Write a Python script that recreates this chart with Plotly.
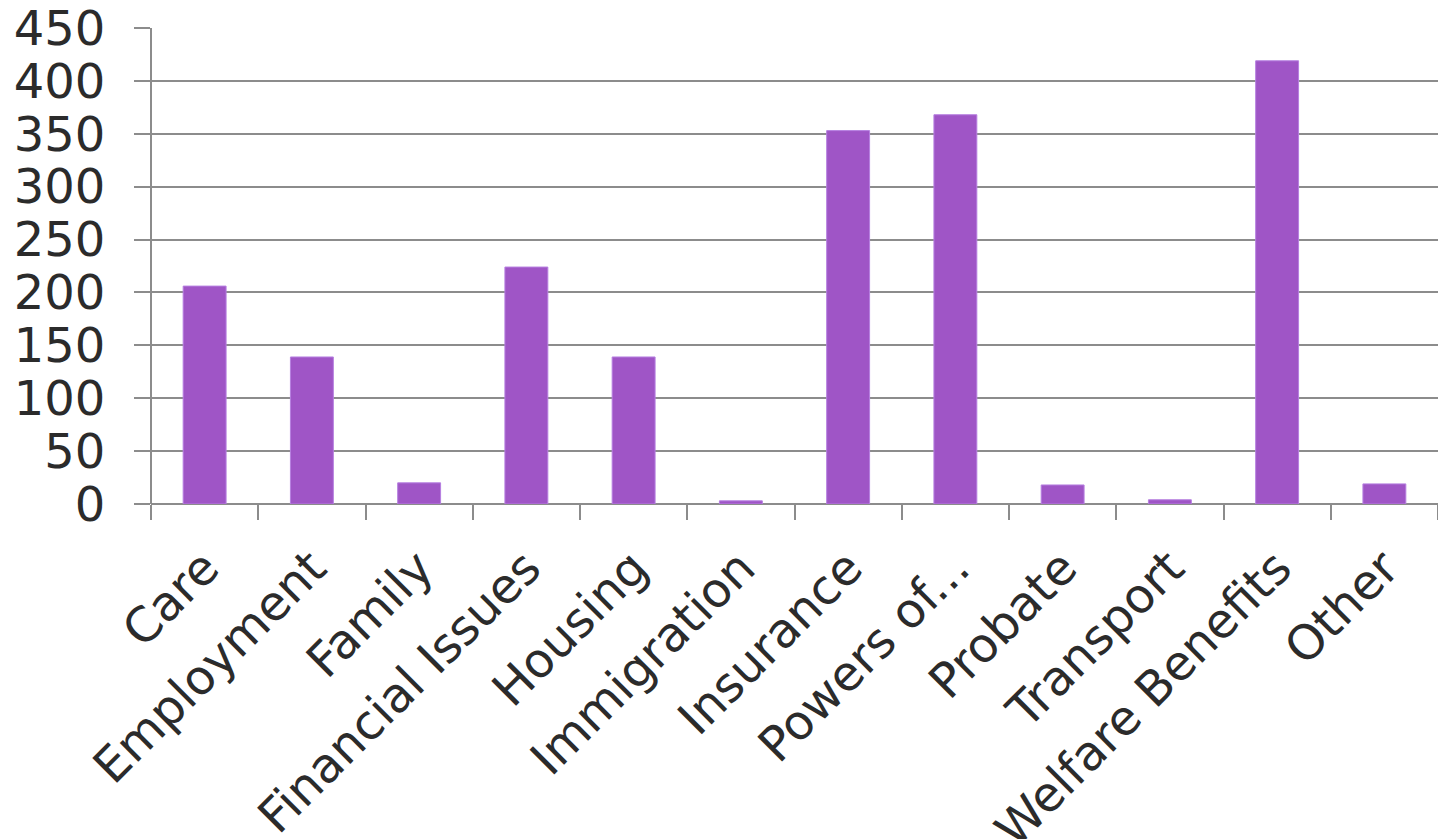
import plotly.graph_objects as go

categories = ["Care", "Employment", "Family", "Financial Issues", "Housing",
              "Immigration", "Insurance", "Powers of...", "Probate", "Transport",
              "Welfare Benefits", "Other"]
counts = [206, 139, 20, 224, 139, 3, 353, 368, 18, 4, 419, 19]
y_ticks = [0, 50, 100, 150, 200, 250, 300, 350, 400, 450]

FONT = "DejaVu Sans"
TEXT = "#2b2b2b"
GRID = "#8c8c8c"

fig = go.Figure(
    go.Bar(
        x=categories,
        y=counts,
        width=0.4,
        marker=dict(color="#9f55c6", line=dict(color="#b67fe0", width=1)),
    )
)

fig.update_layout(
    width=1438,
    height=839,
    margin=dict(l=151, r=0, t=28, b=335, autoexpand=False),
    paper_bgcolor="white",
    plot_bgcolor="white",
    showlegend=False,
    font=dict(family=FONT, size=48, color=TEXT),
    # vertical value-axis line along the left edge of the plot area
    shapes=[dict(type="line", xref="paper", yref="paper", x0=0, x1=0, y0=0, y1=1,
                 line=dict(color=GRID, width=2), layer="above")],
)

fig.update_xaxes(
    type="category",
    automargin=False,
    tickangle=-45,
    ticks="outside",
    tickson="boundaries",
    ticklen=15,
    tickwidth=2,
    tickcolor=GRID,
    showline=False,
    showgrid=False,
    ticklabelstandoff=25,
    ticklabeloverflow="allow",
    tickfont=dict(family=FONT, size=48, color=TEXT),
)

fig.update_yaxes(
    range=[0, 450],
    automargin=False,
    tickvals=y_ticks,
    ticks="outside",
    ticklen=16,
    tickwidth=2,
    tickcolor=GRID,
    showgrid=True,
    gridcolor=GRID,
    gridwidth=2,
    showline=False,
    zeroline=True,
    zerolinecolor=GRID,
    zerolinewidth=2,
    ticklabelstandoff=19,
    ticklabeloverflow="allow",
    tickfont=dict(family=FONT, size=48, color=TEXT),
)

fig.write_html("out.html")
